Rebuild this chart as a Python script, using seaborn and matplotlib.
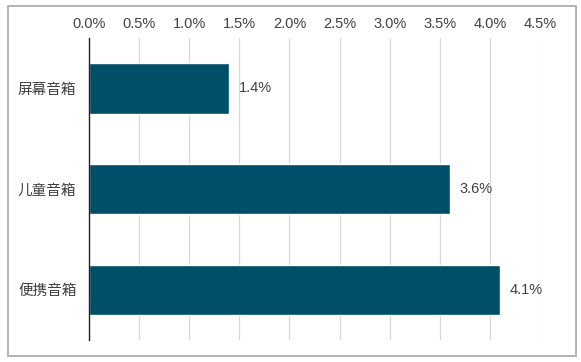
import pandas as pd
import matplotlib.pyplot as plt
import seaborn as sns
from matplotlib.patches import Rectangle
from matplotlib.ticker import FuncFormatter

# Data
categories = ['屏幕音箱', '儿童音箱', '便携音箱']
shares = [1.4, 3.6, 4.1]
ticks = [0, 0.5, 1.0, 1.5, 2.0, 2.5, 3.0, 3.5, 4.0, 4.5]

df = pd.DataFrame({'category': categories, 'share': shares})

sns.set_style('white')
plt.rcParams['font.family'] = ['Liberation Sans', 'Noto Sans CJK SC', 'DejaVu Sans']

fig = plt.figure(figsize=(5.81, 3.62), dpi=100)
ax = fig.add_axes([89 / 581, 22 / 362, 451 / 581, 302 / 362])

sns.barplot(data=df, x='share', y='category', color='#004f69', width=0.5,
            saturation=1, ax=ax, zorder=3)

ax.set_xlim(0, 4.5)
ax.set_xticks(ticks)
ax.xaxis.set_major_formatter(FuncFormatter(lambda v, p: f'{v:.1f}%'))
ax.xaxis.tick_top()
ax.tick_params(axis='x', length=0, labelsize=10.5, colors='#404040', pad=5)
ax.tick_params(axis='y', length=0, labelsize=10.5, colors='#404040', pad=9)
for lab in ax.get_yticklabels():
    lab.set_family(['Noto Sans CJK SC', 'DejaVu Sans'])
ax.grid(axis='x', color='#d9d9d9', linewidth=0.9, zorder=0)
ax.set_xlabel('')
ax.set_ylabel('')
for s in ['top', 'right', 'bottom']:
    ax.spines[s].set_visible(False)
ax.spines['left'].set_color('#222222')
ax.spines['left'].set_linewidth(1.0)
ax.spines['left'].set_zorder(4)

for i, v in enumerate(shares):
    ax.text(v + 0.1, i, f'{v:.1f}%', va='center', ha='left',
            fontsize=10.5, color='#404040')

# outer border
fig.patches.append(Rectangle((8 / 581, 6 / 362), 568 / 581, 350 / 362,
                             transform=fig.transFigure, fill=False,
                             edgecolor='#a6a6a6', linewidth=1.2))

fig.savefig('out.png', dpi=100)
